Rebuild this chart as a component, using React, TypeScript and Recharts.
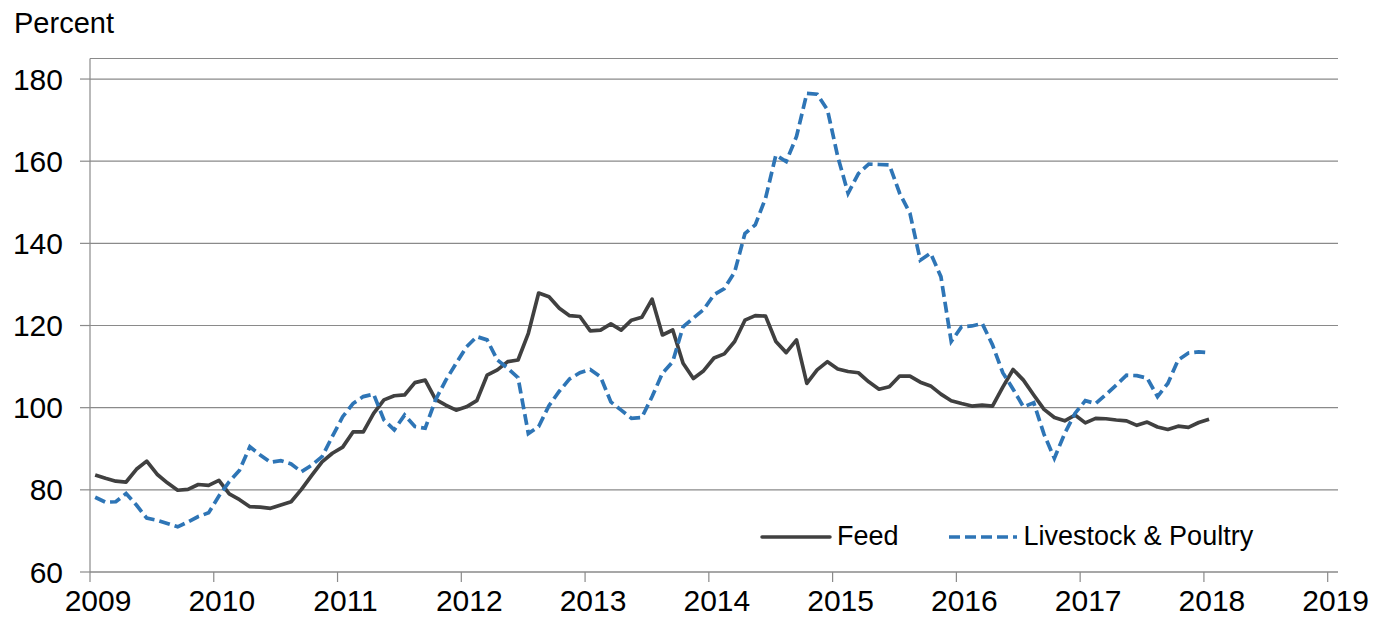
import { LineChart, Line, XAxis, YAxis, CartesianGrid } from "recharts";

// monthly, Jan 2009 - Jan 2018
const years = [2009, 2010, 2011, 2012, 2013, 2014, 2015, 2016, 2017, 2018, 2019];
const yTicks = [60, 80, 100, 120, 140, 160, 180];

const feed = [
  83.6, 82.8, 82.1, 81.9, 85.0, 87.0, 83.8, 81.7, 79.9, 80.1, 81.3, 81.1,
  82.3, 79.0, 77.6, 75.9, 75.8, 75.5, 76.3, 77.1, 80.1, 83.5, 86.8, 88.9,
  90.4, 94.1, 94.1, 98.6, 101.9, 102.9, 103.1, 106.1, 106.7, 102.0, 100.6, 99.4,
  100.2, 101.7, 107.9, 109.2, 111.2, 111.6, 118.1, 127.9, 127.0, 124.2, 122.4, 122.2,
  118.7, 118.9, 120.4, 118.9, 121.3, 122.0, 126.4, 117.7, 118.9, 110.8, 107.1, 109.0,
  112.1, 113.1, 116.1, 121.3, 122.4, 122.3, 116.1, 113.4, 116.5, 105.9, 109.2, 111.2,
  109.4, 108.8, 108.5, 106.3, 104.5, 105.1, 107.7, 107.7, 106.2, 105.3, 103.3, 101.7,
  101.0, 100.4, 100.6, 100.4, 105.0, 109.3, 106.7, 103.1, 99.6, 97.6, 96.8, 98.2,
  96.3, 97.4, 97.3, 97.0, 96.8, 95.7, 96.5, 95.3, 94.7, 95.5, 95.2, 96.4,
  97.2,
];

const livestock = [
  78.2, 77.0, 77.1, 79.1, 76.3, 73.1, 72.6, 71.8, 71.0, 72.2, 73.5, 74.4,
  78.5, 82.0, 84.8, 90.5, 88.5, 86.7, 87.1, 86.3, 84.4, 86.0, 88.1, 93.0,
  97.8, 101.0, 102.7, 103.3, 97.0, 94.6, 98.2, 95.4, 95.0, 101.9, 106.7, 110.8,
  114.8, 117.3, 116.5, 111.6, 109.6, 107.3, 93.7, 95.4, 100.5, 104.0, 107.0, 108.5,
  109.3, 107.5, 101.4, 99.4, 97.4, 97.6, 102.7, 108.4, 111.2, 119.7, 121.8, 123.9,
  127.5, 129.0, 133.0, 142.4, 144.5, 151.0, 161.5, 159.9, 166.0, 176.5, 176.3, 172.5,
  161.1, 152.2, 157.0, 159.3, 159.2, 159.1, 152.2, 147.3, 135.9, 137.6, 131.9, 116.1,
  119.7, 119.9, 120.5, 115.3, 108.5, 104.5, 100.2, 101.2, 93.5, 87.7, 93.7, 98.6,
  101.7, 101.0, 103.2, 105.5, 107.9, 107.8, 107.2, 102.7, 105.9, 111.6, 113.3, 113.6,
  113.4,
];

const data = feed.map((v, i) => ({ month: i + 0.5, feed: v, livestock: livestock[i] }));

const FONT = "'Liberation Sans', Arial, sans-serif";
const GRID = "#8a8a8a";
const FEED_COLOR = "#404040";
const LIVE_COLOR = "#2e75b6";

function ChartLegend() {
  return (
    <div
      style={{
        position: "absolute",
        left: 760,
        top: 521,
        display: "flex",
        alignItems: "center",
        fontFamily: FONT,
        fontSize: 27,
        color: "#000",
      }}
    >
      <svg width={72} height={10}>
        <line x1={2} y1={5} x2={70} y2={5} stroke={FEED_COLOR} strokeWidth={3.5} strokeLinecap="round" />
      </svg>
      <span style={{ marginLeft: 5 }}>Feed</span>
      <svg width={72} height={10} style={{ marginLeft: 48 }}>
        <line x1={2} y1={5} x2={70} y2={5} stroke={LIVE_COLOR} strokeWidth={3.5} strokeDasharray="11 5" />
      </svg>
      <span style={{ marginLeft: 5 }}>Livestock &amp; Poultry</span>
    </div>
  );
}

export default function App() {
  return (
    <div style={{ position: "absolute", left: 0, top: 0, width: 1377, height: 620, background: "#fff" }}>
      <div style={{ position: "absolute", left: 14, top: 7, fontFamily: FONT, fontSize: 29 }}>Percent</div>
      <LineChart width={1377} height={620} data={data} margin={{ top: 58.5, right: 39, bottom: 0, left: 0 }}>
        <CartesianGrid vertical={false} stroke={GRID} strokeWidth={1.2} />
        <XAxis
          dataKey="month"
          type="number"
          domain={[0, 121]}
          ticks={years.map((_, k) => k * 12)}
          tickFormatter={(v: number) => String(years[Math.round(v / 12)])}
          height={48}
          stroke={GRID}
          strokeWidth={1.2}
          tickSize={10}
          tickMargin={8}
          tick={{ fill: "#000", fontSize: 30, fontFamily: FONT, dx: 8 }}
        />
        <YAxis
          type="number"
          domain={[60, 185]}
          ticks={yTicks}
          allowDataOverflow
          width={90}
          stroke={GRID}
          strokeWidth={1.2}
          tickSize={10}
          tickMargin={17}
          tick={{ fill: "#000", fontSize: 30, fontFamily: FONT }}
        />
        <Line
          dataKey="feed"
          stroke={FEED_COLOR}
          strokeWidth={3.7}
          dot={false}
          isAnimationActive={false}
          strokeLinejoin="round"
        />
        <Line
          dataKey="livestock"
          stroke={LIVE_COLOR}
          strokeWidth={3.7}
          strokeDasharray="11 5"
          dot={false}
          isAnimationActive={false}
        />
      </LineChart>
      <ChartLegend />
    </div>
  );
}
